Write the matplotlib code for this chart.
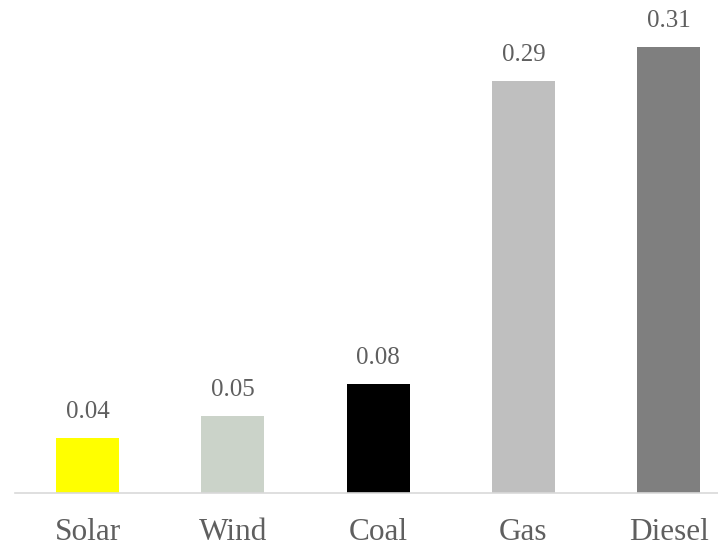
import matplotlib.pyplot as plt

categories = ["Solar", "Wind", "Coal", "Gas", "Diesel"]
values = [0.038, 0.0535, 0.0757, 0.286, 0.31]
labels = ["0.04", "0.05", "0.08", "0.29", "0.31"]
colors = ["#FFFF00", "#CBD3C9", "#000000", "#BFBFBF", "#7F7F7F"]

plt.rcParams['font.family'] = ['Liberation Serif', 'DejaVu Serif']

fig = plt.figure(figsize=(7.18, 5.48), dpi=100)
ax = fig.add_axes([15 / 718, 55 / 548, 703 / 718, 493 / 548])

x = range(len(categories))
bars = ax.bar(x, values, width=0.434, color=colors)

for b, lab in zip(bars, labels):
    ax.annotate(lab, (b.get_x() + b.get_width() / 2, b.get_height()),
                xytext=(0, 11), textcoords="offset points",
                ha="center", va="bottom", fontsize=18, color="#5f5f5f")

ax.set_xlim(-0.5, 4.34)
ax.set_ylim(0, 493 / 1439)
ax.set_xticks(list(x))
ax.set_xticklabels(categories, fontsize=22.5, color="#5f5f5f")
ax.tick_params(axis="x", length=0, pad=18)
ax.set_yticks([])
for s in ["top", "left", "right"]:
    ax.spines[s].set_visible(False)
ax.spines["bottom"].set_color("#D9D9D9")
ax.spines["bottom"].set_linewidth(1.2)

fig.savefig("out.png", dpi=100)
